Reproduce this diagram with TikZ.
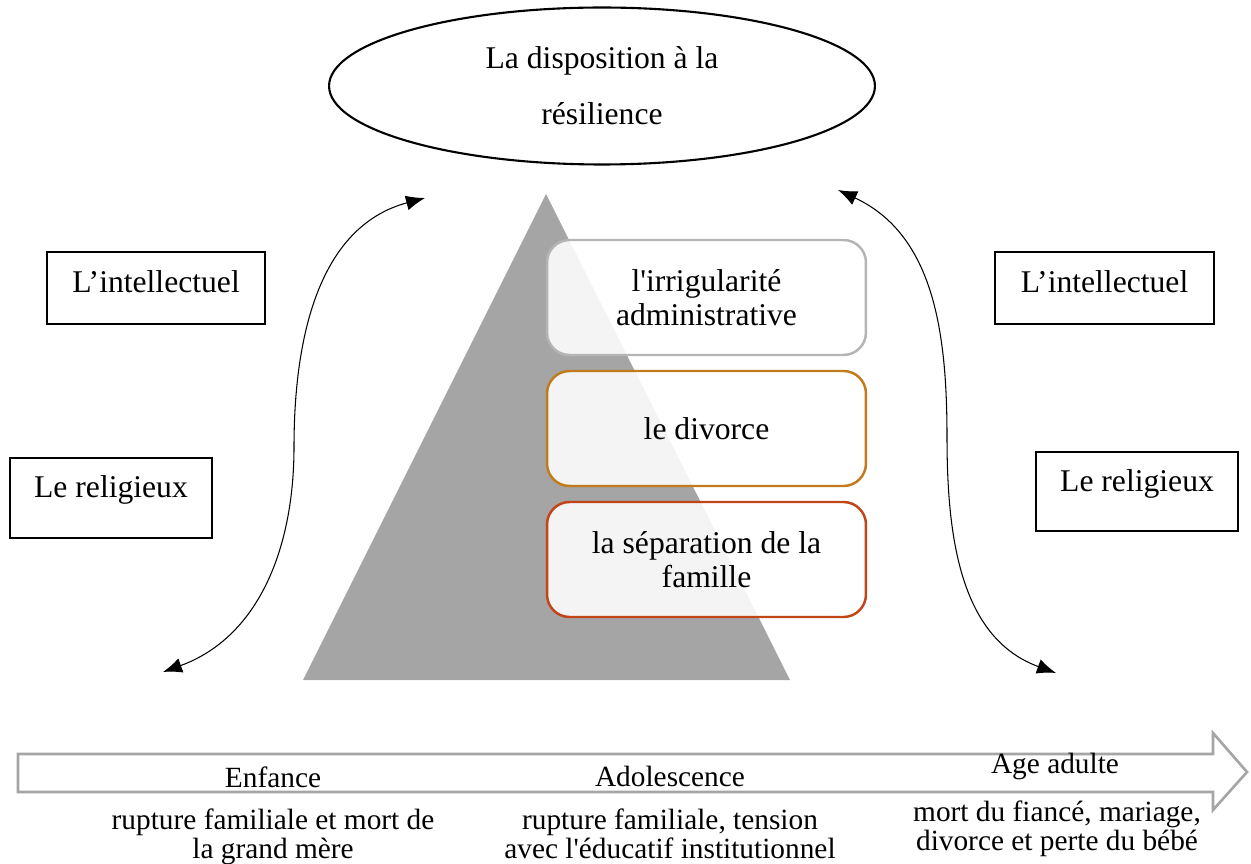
\documentclass[tikz,border=0pt]{standalone}
\usepackage{fontspec}
\setmainfont{Liberation Serif}
\usepackage{tikz}
\usetikzlibrary{positioning}
\usetikzlibrary{shapes.geometric}
\usetikzlibrary {arrows.meta}
\usepackage{xcolor}
\definecolor{pyrgray}{HTML}{A5A5A5}
\definecolor{lvlgray}{HTML}{B4B4B4}
\definecolor{lvlgold}{HTML}{C27B1C}
\definecolor{lvlred}{HTML}{C4441A}

\begin{document}
\begin{tikzpicture}[x=0.02cm, y=0.02cm,
					font=\fontsize{18}{19}\selectfont,
					side/.style={rectangle, draw=black, line width=1.3pt, inner sep=0pt, text height=0.8cm, text depth=0.8cm},
					lvl/.style={rectangle, rounded corners=0.45cm, line width=1.4pt, fill=white, fill opacity=0.88, text opacity=1, minimum width=6.38cm, minimum height=2.3cm, align=center, inner sep=0pt},
					stage/.style={font=\fontsize{16.7}{17}\selectfont, anchor=base, inner sep=0pt},
					ev/.style={font=\fontsize{16.7}{17}\selectfont, anchor=north, align=center, inner sep=0pt},
					link/.style={{Latex[length=0.38cm, width=0.3cm]}-{Latex[length=0.38cm, width=0.3cm]}, line width=0.6pt}
					]
					\useasboundingbox (0,0) rectangle (1251,863);
					
					%Pyramid
					\fill[pyrgray] (303,183) -- (546,669) -- (790,183) -- cycle;
					
					%Nodes
					\node[ellipse, draw, line width=1.2pt, minimum width=10.92cm, minimum height=3.14cm, align=center] (res) at (602,777) {La disposition à la\\[0.45cm] résilience};
					
					\node[side, minimum width=4.36cm, text height=0.82cm, text depth=0.62cm] (intl) at (156,575) {L’intellectuel};
					\node[side, minimum width=4.04cm] (relgl) at (111,365) {Le religieux};
					\node[side, minimum width=4.38cm, text height=0.82cm, text depth=0.62cm] (intr) at (1104.5,575) {L’intellectuel};
					\node[side, minimum width=4.04cm, text height=0.79cm, text depth=0.79cm] (relgr) at (1137,371.5) {Le religieux};
					
					\node[lvl, draw=lvlgray] (adm) at (706.5,565.5) {l\textquotesingle irrigularité\\administrative};
					\node[lvl, draw=lvlgold] (div) at (706.5,434.5) {le divorce};
					\node[lvl, draw=lvlred] (sep) at (706.5,303.5) {la séparation de la\\famille};
					
					%Lines
					\coordinate (lb) at (163,191);
					\coordinate (lm) at (294,416);
					\coordinate (lt) at (425,665);
					\coordinate (rt) at (838,673);
					\coordinate (rm) at (947,426);
					\coordinate (rb) at (1056,190);
					\draw[link] (lb) to[out=20, in=-90] (lm) to[out=90, in=195] (lt);
					\draw[link] (rt) to[out=-25, in=90] (rm) to[out=-90, in=160] (rb);
					
					%Timeline
					\draw[pyrgray, line width=1.5pt, fill=white] (18,109) -- (1213,109) -- (1213,130) -- (1247,91) -- (1213,53) -- (1213,71) -- (18,71) -- cycle;
					
					\node[stage] (enf) at (273,76) {Enfance};
					\node[stage] (ado) at (670,77) {Adolescence};
					\node[stage] (adu) at (1055,90) {Age adulte};
					
					\node[ev] (evenf) at (273,55) {rupture familiale et mort de\\la grand mère};
					\node[ev] (evado) at (670,55) {rupture familiale, tension\\avec l\textquotesingle éducatif institutionnel};
					\node[ev] (evadu) at (1057,63) {mort du fiancé, mariage,\\divorce et perte du bébé};
				\end{tikzpicture}
\end{document}
